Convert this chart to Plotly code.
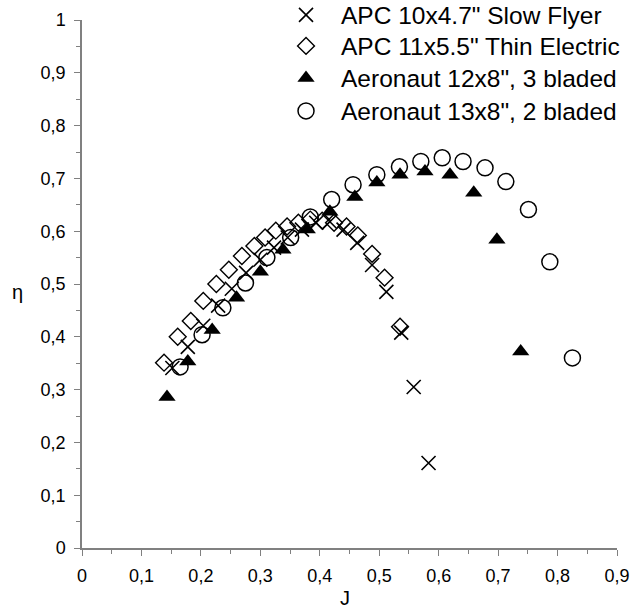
import plotly.graph_objects as go

# APC 10x4.7" Slow Flyer
j_slow = [0.152, 0.178, 0.204, 0.229, 0.252, 0.276, 0.300, 0.323, 0.346, 0.370,
          0.394, 0.417, 0.440, 0.463, 0.488, 0.512, 0.537, 0.558, 0.583]
eta_slow = [0.341, 0.381, 0.421, 0.459, 0.491, 0.521, 0.546, 0.569, 0.588, 0.603,
            0.616, 0.618, 0.603, 0.578, 0.536, 0.485, 0.408, 0.305, 0.161]

# APC 11x5.5" Thin Electric
j_thin = [0.138, 0.161, 0.183, 0.204, 0.226, 0.247, 0.269, 0.290, 0.308, 0.326,
          0.345, 0.364, 0.384, 0.404, 0.424, 0.445, 0.464, 0.488, 0.509, 0.535]
eta_thin = [0.351, 0.400, 0.430, 0.468, 0.500, 0.527, 0.553, 0.572, 0.588, 0.601,
            0.609, 0.616, 0.622, 0.620, 0.616, 0.609, 0.592, 0.557, 0.512, 0.419]

# Aeronaut 12x8", 3 bladed
j_a12 = [0.143, 0.178, 0.219, 0.260, 0.300, 0.338, 0.379, 0.417, 0.459, 0.496,
         0.535, 0.577, 0.619, 0.659, 0.698, 0.738]
eta_a12 = [0.286, 0.353, 0.413, 0.474, 0.523, 0.565, 0.603, 0.637, 0.665, 0.692,
           0.707, 0.713, 0.707, 0.673, 0.584, 0.372]

# Aeronaut 13x8", 2 bladed
j_a13 = [0.165, 0.202, 0.237, 0.275, 0.311, 0.351, 0.384, 0.420, 0.456, 0.496,
         0.534, 0.570, 0.606, 0.641, 0.678, 0.713, 0.751, 0.787, 0.825]
eta_a13 = [0.343, 0.404, 0.455, 0.502, 0.550, 0.588, 0.627, 0.660, 0.688, 0.707,
           0.722, 0.732, 0.739, 0.732, 0.720, 0.694, 0.641, 0.542, 0.360]

series_names = ["APC 10x4.7\" Slow Flyer", "APC 11x5.5\" Thin Electric",
                "Aeronaut 12x8\", 3 bladed", "Aeronaut 13x8\", 2 bladed"]

x_ticks = [0, 0.1, 0.2, 0.3, 0.4, 0.5, 0.6, 0.7, 0.8, 0.9]
x_labels = ["0", "0,1", "0,2", "0,3", "0,4", "0,5", "0,6", "0,7", "0,8", "0,9"]
y_ticks = [0, 0.1, 0.2, 0.3, 0.4, 0.5, 0.6, 0.7, 0.8, 0.9, 1]
y_labels = ["0", "0,1", "0,2", "0,3", "0,4", "0,5", "0,6", "0,7", "0,8", "0,9", "1"]

FONT = "Liberation Sans, Arial, sans-serif"
AXIS = "#808080"

fig = go.Figure()
fig.add_trace(go.Scatter(
    x=j_slow, y=eta_slow, mode="markers", name=series_names[0], legend="legend",
    marker=dict(symbol="x-thin", size=14, line=dict(color="black", width=1.6), color="black")))
fig.add_trace(go.Scatter(
    x=j_thin, y=eta_thin, mode="markers", name=series_names[1], legend="legend2",
    marker=dict(symbol="diamond-open", size=13, color="black", line=dict(width=1.4))))
fig.add_trace(go.Scatter(
    x=j_a12, y=eta_a12, mode="markers", name=series_names[2], legend="legend3",
    marker=dict(symbol="triangle-up", size=15, color="black", line=dict(width=0))))
fig.add_trace(go.Scatter(
    x=j_a13, y=eta_a13, mode="markers", name=series_names[3], legend="legend4",
    marker=dict(symbol="circle-open", size=16, color="black", line=dict(width=1.5))))

def leg(ypos):
    return dict(x=0.3533, y=ypos, xanchor="left", yanchor="middle",
                font=dict(family=FONT, size=24.5, color="black"),
                bgcolor="rgba(0,0,0,0)", itemsizing="trace", itemwidth=60)

fig.update_layout(
    width=630, height=611,
    margin=dict(l=82, r=13, t=20, b=63, autoexpand=False),
    paper_bgcolor="white", plot_bgcolor="white",
    font=dict(family=FONT, color="black", size=18),
    showlegend=True,
    legend=leg(1.0095), legend2=leg(0.9508), legend3=leg(0.8902), legend4=leg(0.8277),
    xaxis=dict(range=[0, 0.9], tickvals=x_ticks, ticktext=x_labels,
               showgrid=False, zeroline=False, showline=True, linecolor=AXIS, linewidth=1.5,
               ticks="outside", ticklen=6, tickcolor=AXIS, tickwidth=1.2,
               minor=dict(dtick=0.05, ticks="outside", ticklen=4, tickcolor=AXIS, tickwidth=1.2),
               tickfont=dict(size=18), ticklabelstandoff=5, ticklabeloverflow="allow"),
    yaxis=dict(range=[0, 1], tickvals=y_ticks, ticktext=y_labels,
               showgrid=False, zeroline=False, showline=True, linecolor=AXIS, linewidth=1.5,
               ticks="outside", ticklen=6, tickcolor=AXIS, tickwidth=1.2,
               minor=dict(dtick=0.05, ticks="outside", ticklen=4, tickcolor=AXIS, tickwidth=1.2),
               tickfont=dict(size=18), ticklabelstandoff=5),
    annotations=[
        dict(text="η", x=-0.12, y=0.485, xref="paper", yref="paper",
             showarrow=False, font=dict(size=20), xanchor="center", yanchor="middle"),
        dict(text="J", x=0.492, y=-0.094, xref="paper", yref="paper",
             showarrow=False, font=dict(size=20), xanchor="center", yanchor="middle"),
    ],
)

fig.write_html("out.html")
